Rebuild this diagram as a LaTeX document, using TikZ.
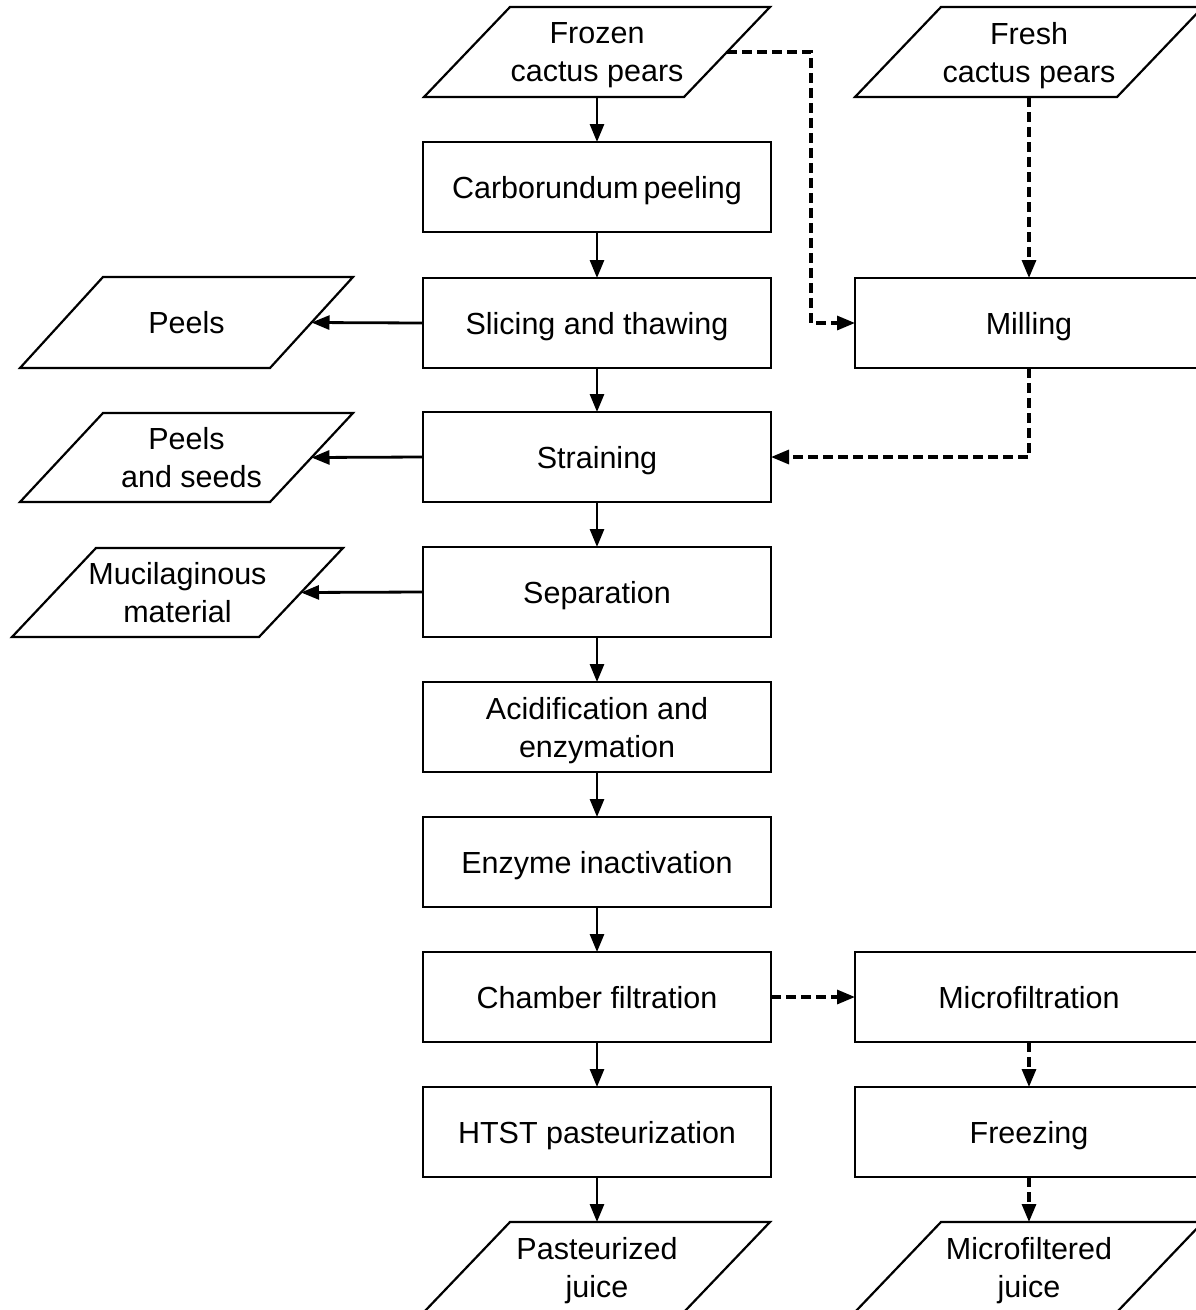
\documentclass[tikz,border=0pt]{standalone}
\usepackage{fontspec}
\setmainfont{Liberation Sans}
\usetikzlibrary{arrows.meta,calc}
\newcommand\fs{\fontsize{30.5}{38}\selectfont}
\newcommand\drawpara[2]{%
  \draw[paraline] (#1.south west) -- ($(#1.north west)+(#2,0)$) -- (#1.north east) -- ($(#1.south east)-(#2,0)$) -- cycle;
  \coordinate (#1-r) at ($(#1.east)-(#2/2,0)$);}
\begin{document}
\begin{tikzpicture}[x=1pt,y=-1pt,
  box/.style={draw, line width=2.2pt, minimum width=348pt, minimum height=90pt, inner sep=0pt, outer sep=0pt, align=center, font=\fs, text depth=0pt},
  ptext/.style={inner sep=0pt, outer sep=0pt, minimum height=90pt, align=center, font=\fs, text depth=0pt},
  paraline/.style={line width=2.2pt, line join=miter},
  flow/.style={line width=2.8pt, -{Triangle[length=18pt,width=14pt]}},
  dflow/.style={line width=3.2pt, dash pattern=on 10pt off 5pt, -{Triangle[length=18pt,width=14pt]}},
]
\useasboundingbox (0,0) rectangle (1196,1310);
\clip (0,0) rectangle (1196,1310);

% main column
\node[box] (carb) at (597,187) {Carborundum\,peeling};
\node[box] (slice) at (597,323) {Slicing and thawing};
\node[box] (strain) at (597,457) {Straining};
\node[box] (sep) at (597,592) {Separation};
\node[box] (acid) at (597,727) {Acidification and\\enzymation};
\node[box] (enz) at (597,862) {Enzyme inactivation};
\node[box] (chamber) at (597,997) {Chamber filtration};
\node[box] (htst) at (597,1132) {HTST pasteurization};

% right column
\node[box] (mill) at (1029,323) {Milling};
\node[box] (micro) at (1029,997) {Microfiltration};
\node[box] (freeze) at (1029,1132) {Freezing};

% parallelograms
\node[ptext, minimum width=346pt] (frozen) at (597,52) {Frozen\\cactus pears};
\drawpara{frozen}{86}
\node[ptext, minimum width=348pt] (fresh) at (1029,52) {Fresh\\cactus pears};
\drawpara{fresh}{86}
\node[ptext, minimum width=333pt, minimum height=91pt] (peels) at (186.5,322.5) {Peels};
\drawpara{peels}{83}
\node[ptext, minimum width=333pt, minimum height=89pt] (pseeds) at (186.5,457.5) {Peels\\\hspace*{10pt}and seeds};
\drawpara{pseeds}{83}
\node[ptext, minimum width=331pt, minimum height=89pt] (mucil) at (177.5,592.5) {Mucilaginous\\material};
\drawpara{mucil}{84}
\node[ptext, minimum width=346pt] (past) at (597,1267) {Pasteurized\\juice};
\drawpara{past}{86}
\node[ptext, minimum width=348pt] (mjuice) at (1029,1267) {Microfiltered\\juice};
\drawpara{mjuice}{86}

% solid flow
\draw[flow] (frozen.south) -- (carb.north);
\draw[flow] (carb) -- (slice);
\draw[flow] (slice) -- (strain);
\draw[flow] (strain) -- (sep);
\draw[flow] (sep) -- (acid);
\draw[flow] (acid) -- (enz);
\draw[flow] (enz) -- (chamber);
\draw[flow] (chamber) -- (htst);
\draw[flow] (htst.south) -- (past.north);
\draw[flow] (slice.west) -- (peels-r);
\draw[flow] (strain.west) -- (pseeds-r);
\draw[flow] (sep.west) -- (mucil-r);

% dashed flow
\coordinate (fbend) at (811,52);
\draw[dflow] (frozen-r) -- (fbend) |- (mill.west);
\draw[dflow] (fresh.south) -- (mill.north);
\draw[dflow] (mill.south) |- (strain.east);
\draw[dflow] (chamber.east) -- (micro.west);
\draw[dflow] (micro) -- (freeze);
\draw[dflow] (freeze.south) -- (mjuice.north);
\end{tikzpicture}
\end{document}
